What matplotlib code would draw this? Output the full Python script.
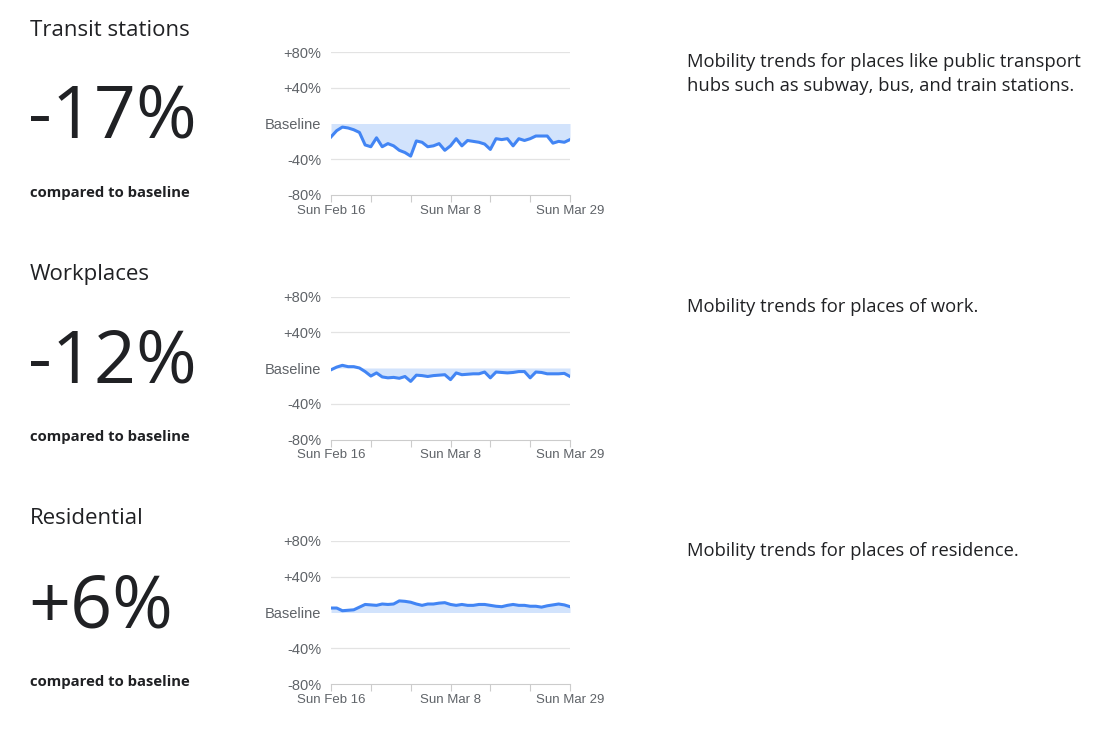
import matplotlib
matplotlib.use("Agg")
import matplotlib.pyplot as plt
import numpy as np

plt.rcParams['font.family'] = ['Open Sans', 'DejaVu Sans']

titles = ['Transit stations', 'Workplaces', 'Residential']
headline = ['-17%', '-12%', '+6%']
descriptions = [
    'Mobility trends for places like public transport\nhubs such as subway, bus, and train stations.',
    'Mobility trends for places of work.',
    'Mobility trends for places of residence.',
]

# daily change vs baseline, Sun Feb 16 .. Sun Mar 29 (43 days)
transit = [-15, -8, -4, -5, -7, -10, -24, -26, -16, -26, -22.5, -25, -30, -32.5, -36.5,
           -19.5, -21, -26, -25, -22.5, -30, -25, -17, -25, -19, -20, -21, -23, -29,
           -17, -18, -17, -25, -17, -19, -17, -14, -14, -14, -22, -20, -21, -18]
workplaces = [-2, 1, 3, 1.5, 1.5, 0, -4, -9, -5.5, -10, -11, -10.5, -11.5, -9.5, -15,
              -8, -8.5, -9.5, -8.5, -8, -7.5, -13, -5.5, -7.5, -7, -6.5, -6.5, -4.5, -11,
              -4.5, -5, -5.5, -5, -4, -4, -11, -4.5, -5, -6.5, -6.5, -6.5, -6, -9.5]
residential = [5, 5, 2, 2.5, 3, 6, 9, 8.5, 8, 9.5, 9, 9.5, 13, 12.5, 11.5,
               9.5, 8, 9.5, 9.5, 10.5, 11, 9, 8, 9, 8, 8, 9, 9, 8,
               7, 6.5, 8, 9, 8, 8, 7, 7, 6, 7.5, 8.5, 9.5, 8.5, 6.5]
series = [transit, workplaces, residential]

y_ticks = [-80, -40, 0, 40, 80]
y_labels = ['-80%', '-40%', 'Baseline', '+40%', '+80%']
x_ticks = [0, 7, 14, 21, 28, 35, 42]
x_labels = ['Sun Feb 16', '', '', 'Sun Mar 8', '', '', 'Sun Mar 29']

W, H = 1117, 751
fig = plt.figure(figsize=(W / 100, H / 100), dpi=100)

line_col = '#4285f4'
fill_col = '#d2e3fc'
text_col = '#202124'
grey = '#5f6368'
tick_font = ['Liberation Sans', 'DejaVu Sans']

for i in range(3):
    off = i * 244.5
    bottom_px = 195 + off
    ax = fig.add_axes([331 / W, 1 - bottom_px / H, 239 / W, 143 / H])
    vals = np.array(series[i])
    days = np.arange(len(vals))
    ax.fill_between(days, 0, vals, color=fill_col, linewidth=0)
    for g in [40, 80, -40]:
        ax.axhline(g, color='#e3e3e3', linewidth=0.9, zorder=0)
    ax.plot(days, vals, color=line_col, linewidth=2.2, solid_joinstyle='round')
    ax.set_xlim(0, 42)
    ax.set_ylim(-80, 80)
    ax.set_yticks(y_ticks)
    ax.set_yticklabels(y_labels, family=tick_font)
    ax.set_xticks(x_ticks)
    ax.set_xticklabels(x_labels, family=tick_font)
    for s in ['top', 'right', 'left']:
        ax.spines[s].set_visible(False)
    ax.spines['bottom'].set_color('#cccccc')
    ax.tick_params(axis='y', length=0, pad=7, labelsize=10.5, labelcolor=grey)
    ax.tick_params(axis='x', length=5, color='#cccccc', pad=2, labelsize=9.5, labelcolor=grey)
    ax.set_facecolor('none')

    fig.text(30 / W, 1 - (30 + off) / H, titles[i], fontsize=16, color=text_col, va='center')
    fig.text(28 / W, 1 - (119 + off) / H, headline[i], fontsize=53, color=text_col,
             va='center')
    fig.text(30 / W, 1 - (193 + off) / H, 'compared to baseline', fontsize=10.7,
             color=text_col, va='center', fontweight='bold')
    for j, line in enumerate(descriptions[i].split('\n')):
        fig.text(687 / W, 1 - (62 + 24 * j + off) / H, line, fontsize=13.2, color=text_col,
                 va='center')

fig.savefig('out.png', dpi=100)
